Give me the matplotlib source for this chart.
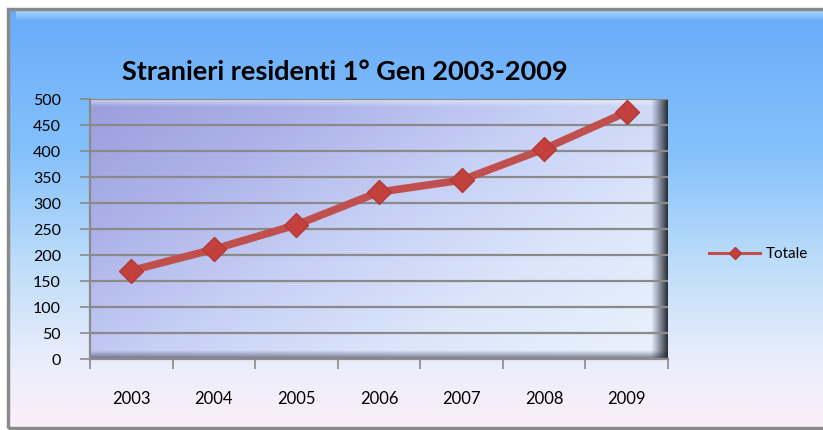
import numpy as np
import matplotlib
matplotlib.use("Agg")
import matplotlib.pyplot as plt
from matplotlib.colors import LinearSegmentedColormap
from matplotlib.patches import Rectangle

years = ["2003", "2004", "2005", "2006", "2007", "2008", "2009"]
totale = [170, 211, 258, 321, 344, 404, 475]
series_name = "Totale"
title = "Stranieri residenti 1° Gen 2003-2009"

W, H = 823, 431
DPI = 100
fig = plt.figure(figsize=(W / DPI, H / DPI), dpi=DPI)
fig.patch.set_facecolor("white")

def fx(px):
    return px / W

def fy(py):
    return 1 - py / H

# ---- chart background (frame) ----
bx0, by0, bx1, by1 = 8, 10, 823, 429
bg = fig.add_axes([fx(bx0), fy(by1), fx(bx1 - bx0), (by1 - by0) / H])
bg.set_axis_off()
bcmap = LinearSegmentedColormap.from_list(
    "bg", [(0.0, "#68abf9"), (0.35, "#86c2fb"), (0.6, "#bcdcf9"), (0.85, "#ebeefb"), (1.0, "#fbeef8")])
grad = np.linspace(0, 1, 256).reshape(-1, 1)
bg.imshow(grad, aspect="auto", cmap=bcmap, extent=[0, 1, 0, 1], origin="upper")
tcmap = LinearSegmentedColormap.from_list("tb", ["#b4dcfd", "#6aaefa"])
bg.imshow(np.linspace(0, 1, 64).reshape(-1, 1), aspect="auto", cmap=tcmap,
          extent=[0.01, 1, 1 - 12 / (by1 - by0), 1], origin="upper")
bg.set_xlim(0, 1)
bg.set_ylim(0, 1)
bg.add_patch(Rectangle((0, 0), 1.2, 1, fill=False, edgecolor="#8a8a8a", lw=2.5,
                       transform=bg.transAxes, clip_on=False))

# ---- plot area ----
px0, py0, px1, py1 = 90, 100, 668, 360
ax = fig.add_axes([fx(px0), fy(py1), fx(px1 - px0), (py1 - py0) / H])
n = len(years)

gx, gy = np.meshgrid(np.linspace(0, 1, 300), np.linspace(0, 1, 150))
v = np.clip(0.6 * gx + 0.45 * (1 - gy), 0, 1)  # 0 = upper-left (purple), 1 = lower-right (light)
pcmap = LinearSegmentedColormap.from_list(
    "pa", [(0.0, "#9a9edd"), (0.25, "#adb3e9"), (0.5, "#c7d0f5"), (0.75, "#dbe6fb"), (1.0, "#e8f0fc")])
ax.imshow(v, aspect="auto", cmap=pcmap, extent=[-0.5, n - 0.5, 0, 500],
          origin="lower", zorder=0, vmin=0, vmax=1)
ax.imshow(np.linspace(0, 1, 32).reshape(-1, 1), aspect="auto",
          cmap=LinearSegmentedColormap.from_list("th", [(1, 1, 1, 0.0), (1, 1, 1, 0.65)]),
          extent=[-0.5, n - 0.5, 484, 500], origin="lower", zorder=0.5)
ax.imshow(np.linspace(0, 1, 32).reshape(-1, 1), aspect="auto",
          cmap=LinearSegmentedColormap.from_list("bs", [(0.33, 0.33, 0.42, 0.8), (0.35, 0.35, 0.45, 0.0)]),
          extent=[-0.5, n - 0.5, 0, 16], origin="lower", zorder=0.5)
ax.imshow(np.linspace(0, 1, 32).reshape(1, -1), aspect="auto",
          cmap=LinearSegmentedColormap.from_list("rs", [(0.2, 0.2, 0.3, 0.0), (0.12, 0.14, 0.16, 0.95)]),
          extent=[n - 0.5 - 0.2, n - 0.5, 0, 500], origin="lower", zorder=0.5)
ax.set_xlim(-0.5, n - 0.5)
ax.set_ylim(0, 500)

ax.set_yticks(np.arange(0, 501, 50))
ax.yaxis.grid(True, color="#8a8a8a", lw=1.6, zorder=1)
ax.set_axisbelow(False)

ax.set_xticks(np.arange(-0.5, n, 1.0))
ax.set_xticklabels([])
ax.set_xticks(np.arange(n), minor=True)
ax.set_xticklabels(years, minor=True, fontsize=12, family="Lato")
ax.tick_params(axis="x", which="major", length=7, width=1.2, color="#8a8a8a", direction="out")
ax.tick_params(axis="x", which="minor", length=0, pad=22)
ax.tick_params(axis="y", length=7, width=1.2, color="#8a8a8a", labelsize=11.5, pad=14)
for lab in ax.get_yticklabels():
    lab.set_family("Lato")
for s in ["top", "right"]:
    ax.spines[s].set_visible(False)
ax.spines["left"].set_color("#8a8a8a")
ax.spines["left"].set_linewidth(1.6)
ax.spines["bottom"].set_color("#8a8a8a")
ax.spines["bottom"].set_linewidth(1.6)

x = np.arange(n)
ax.plot(x, totale, color="#c0504d", lw=5.5, solid_capstyle="round", zorder=3,
        marker="D", markersize=12, markerfacecolor="#c4403c", markeredgecolor="#b03a36",
        markeredgewidth=1, label=series_name, clip_on=False)

fig.text(fx(345), fy(72), title, ha="center", va="center", fontsize=19.5,
         fontweight="bold", family="Lato", color="black")

lx0, lx1, ly = 709, 760, 254
fig.add_artist(plt.Line2D([fx(lx0), fx(lx1)], [fy(ly), fy(ly)], color="#c0504d", lw=2.2,
                          transform=fig.transFigure))
fig.add_artist(plt.Line2D([fx((lx0 + lx1) / 2)], [fy(ly)], color="#c0504d", marker="D",
                          markersize=6, markerfacecolor="#c4403c", markeredgecolor="#b03a36",
                          transform=fig.transFigure))
fig.text(fx(766), fy(ly), series_name, ha="left", va="center", fontsize=11, family="Lato")

fig.savefig("out.png", dpi=DPI)
